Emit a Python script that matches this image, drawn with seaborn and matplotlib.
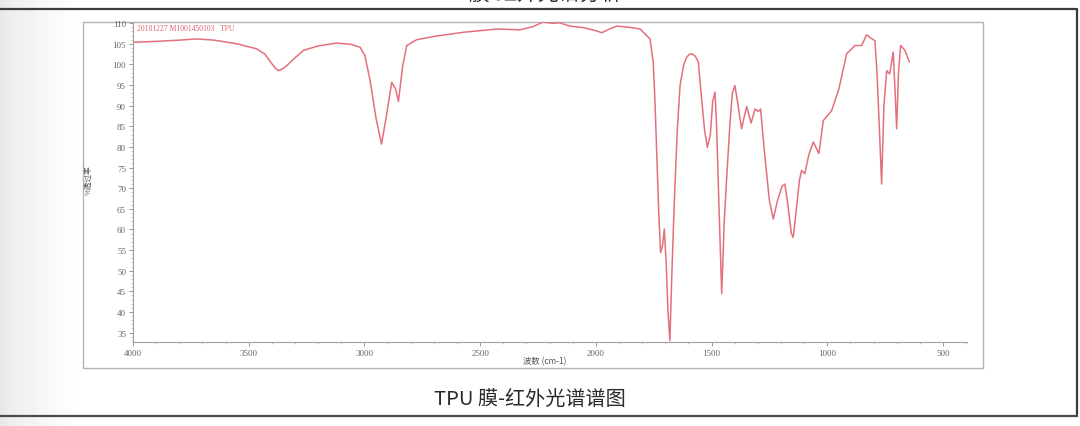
import numpy as np
import pandas as pd
import seaborn as sns
from matplotlib import pyplot as plt
from matplotlib.ticker import MultipleLocator

# IR spectrum (wavenumber cm-1, % transmittance)
wavenumber = [4000, 3990, 3900, 3800, 3725, 3650, 3550, 3466, 3430, 3400, 3385, 3372, 3355, 3340, 3300, 3264,
              3200, 3120, 3060, 3019, 2998, 2975, 2950, 2926, 2905, 2882, 2865, 2853, 2835, 2817,
              2774, 2700, 2573, 2428, 2328, 2270, 2227, 2190, 2155, 2112, 2050, 2000, 1975, 1940,
              1910, 1852, 1809, 1766, 1752, 1745, 1737, 1728, 1720, 1712, 1704, 1696, 1688, 1680,
              1672, 1665, 1658, 1648, 1636, 1620, 1607, 1595, 1585, 1570, 1557, 1545, 1530, 1518, 1505,
              1495, 1485, 1478, 1468, 1456, 1445, 1434, 1420, 1410, 1399, 1385, 1370, 1360, 1348,
              1329, 1312, 1298, 1288, 1270, 1250, 1233, 1215, 1195, 1183, 1170, 1155, 1147, 1135,
              1120, 1111, 1097, 1080, 1060, 1036, 1025, 1017, 981, 950, 916, 880, 851, 830,
              810, 794, 785, 775, 765, 755, 743, 730, 715, 708, 700, 692, 683, 665, 645]
transmittance = [105.3, 105.4, 105.6, 105.9, 106.2, 105.9, 105.0, 103.8, 102.5, 100.2, 99.1, 98.5, 98.9, 99.5, 101.6, 103.4,
                 104.5, 105.2, 104.9, 104.2, 102.2, 96.0, 87.0, 80.7, 87.5, 95.7, 94.0, 91.0, 99.5, 104.6,
                 106.0, 106.8, 107.8, 108.6, 108.4, 109.2, 110.3, 110.0, 110.1, 109.3, 108.9, 108.2, 107.7, 108.6,
                 109.3, 109.0, 108.6, 106.2, 100.6, 92.0, 78.7, 64.0, 54.4, 56.0, 60.1, 52.0, 40.0, 33.0,
                 48.0, 60.0, 70.6, 84.0, 94.9, 100.0, 101.8, 102.5, 102.6, 102.0, 100.6, 93.0, 84.0, 79.9, 83.0,
                 91.0, 93.3, 85.0, 66.0, 44.4, 62.0, 73.0, 86.0, 93.0, 94.9, 90.0, 84.4, 87.0, 89.8,
                 85.8, 89.2, 88.6, 89.2, 78.0, 67.0, 62.5, 67.0, 70.5, 71.0, 66.0, 59.0, 58.1, 64.0,
                 72.0, 74.3, 73.5, 78.0, 81.2, 78.4, 83.0, 86.4, 88.8, 94.0, 102.6, 104.6, 104.6, 107.2,
                 106.3, 105.8, 98.0, 85.0, 71.0, 90.0, 98.5, 97.7, 103.0, 95.0, 84.4, 98.0, 104.6, 103.5, 100.6]

x_ticks = [4000, 3500, 3000, 2500, 2000, 1500, 1000, 500]
y_ticks = list(range(35, 111, 5))

sample_label = '20181227 M1001450103   TPU'
y_label = '%透过率'
x_label = '波数 (cm-1)'
caption = 'TPU 膜-红外光谱谱图'
top_text = '膜-红外光谱分析'

df = pd.DataFrame({'wn': wavenumber, 'T': transmittance})

sns.set_theme(style='white')
plt.rcParams['font.family'] = ['Noto Sans CJK SC', 'DejaVu Sans']

W, H = 1080, 427
fig = plt.figure(figsize=(W / 100, H / 100), dpi=100)

# page background, left shadow, document borders (pixel coords)
bg = fig.add_axes([0, 0, 1, 1], zorder=0)
bg.set_xlim(0, W)
bg.set_ylim(H, 0)
bg.axis('off')
grad = np.linspace(0, 1, 80)
shade = 0.91 + 0.09 * grad ** 0.8
bg.imshow(np.tile(shade, (2, 1)), cmap='gray', vmin=0, vmax=1, extent=(0, 80, H, 0), aspect='auto')
bg.plot([0, 1077], [10, 10], color='#3c3c3c', lw=1.6)
bg.plot([1077, 1077], [10, 417], color='#3c3c3c', lw=1.6)
bg.plot([0, 1077], [417, 417], color='#4a4a4a', lw=1.6)
bg.plot([83, 983, 983, 83, 83], [23, 23, 369, 369, 23], color='#b4b4b4', lw=1.0)
# heading of the document cell, cut by the screenshot's top edge
bg.text(545, 5, top_text, ha='center', va='bottom', fontsize=15, color='#333333')
bg.text(530, 400, caption, ha='center', va='center', fontsize=14.5, color='#2a2a2a')

# spectrum axes
ax = fig.add_axes([133 / W, 1 - 343 / H, 834 / W, 320 / H], zorder=1)
ax.patch.set_alpha(0)
sns.lineplot(data=df, x='wn', y='T', ax=ax, color='#e4707c', lw=1.1, estimator=None, sort=False)
ax.set_xlim(4000, 396)
ax.set_ylim(32.7, 110.3)
ax.set_xticks(x_ticks)
ax.set_yticks(y_ticks)
ax.xaxis.set_minor_locator(MultipleLocator(100))
ax.yaxis.set_minor_locator(MultipleLocator(1))
ax.tick_params(which='major', length=3, width=0.6, color='#888888', direction='out',
               labelsize=6.5, labelcolor='#666666', pad=2, bottom=True, left=True)
ax.tick_params(which='minor', length=1.2, width=0.5, color='#aaaaaa', direction='out', bottom=True, left=True)
for lab in ax.get_xticklabels() + ax.get_yticklabels():
    lab.set_family('Liberation Serif')
for s in ['top', 'right']:
    ax.spines[s].set_visible(False)
for s in ['left', 'bottom']:
    ax.spines[s].set_color('#a0a0a0')
    ax.spines[s].set_linewidth(0.8)
ax.set_xlabel('')
ax.set_ylabel('')

bg.text(545, 362, x_label, ha='center', va='center', fontsize=6, color='#555555')
bg.text(89, 180, y_label, ha='center', va='center', fontsize=5.5, color='#555555', rotation=90)
bg.text(137, 29, sample_label, ha='left', va='center', fontsize=5.5, color='#e0606e',
        family=['Liberation Serif', 'DejaVu Serif'])

fig.savefig('out.png', dpi=100)
